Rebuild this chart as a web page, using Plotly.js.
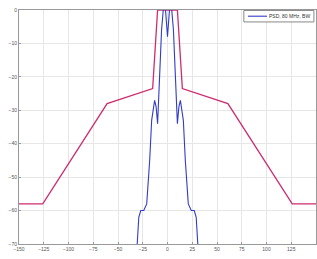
<!DOCTYPE html>
<html><head><meta charset="utf-8">
<script src="https://cdn.plot.ly/plotly-3.0.1.min.js"></script>
<style>html,body{margin:0;padding:0;background:#fff}#c{width:317px;height:259px}</style>
</head><body><div id="c"></div>
<script>
// Spectral mask (dBr) vs frequency offset
var maskFreq = [-150, -126, -61, -15, -10, 10, 15, 61, 126, 150];
var maskLevel = [-58, -58, -28, -23.5, 0, 0, -23.5, -28, -58, -58];
// Measured spectrum
var sigFreq = [-31, -29, -27, -24, -21, -18, -16, -13, -11.5, -10, -8, -6, -4, -2.5, -1, 0, 1, 2.5, 4, 6, 8, 10, 11.5, 13, 16, 18, 21, 24, 27, 29, 31];
var sigLevel = [-72, -62, -60, -60, -58, -45, -33, -27, -29, -34, -20, -6, 1, 2, -4, -8, -4, 2, 1, -6, -20, -34, -29, -27, -33, -45, -58, -60, -60, -62, -72];
var legendName = 'PSD, 80 MHz, BW';
var xTicks = [-150, -125, -100, -75, -50, -25, 0, 25, 50, 75, 100, 125, 150];
var yTicks = [-70, -60, -50, -40, -30, -20, -10, 0];

var sigColor = 'rgb(50,60,200)';
var traces = [
  {x: maskFreq, y: maskLevel, mode: 'lines', name: 'mask', showlegend: false,
   line: {color: 'rgb(205,45,110)', width: 1.3}},
  {x: sigFreq, y: sigLevel, mode: 'lines', name: legendName, showlegend: false,
   line: {color: sigColor, width: 1.1}}
];
var layout = {
  width: 317, height: 259,
  margin: {l: 19, r: 1, t: 10, b: 15},
  paper_bgcolor: '#fff', plot_bgcolor: '#fff',
  font: {family: 'Liberation Sans, Arial, sans-serif', size: 5, color: '#555'},
  xaxis: {range: [-150, 150], tickvals: xTicks, showgrid: true, gridcolor: '#e6e6e6',
          zeroline: false, showline: true, linecolor: '#999', mirror: true, linewidth: 1,
          ticks: 'inside', ticklen: 2, tickcolor: '#999', tickfont: {size: 5}},
  yaxis: {range: [-70, 0], tickvals: yTicks, showgrid: true, gridcolor: '#e6e6e6',
          zeroline: false, showline: true, linecolor: '#999', mirror: true, linewidth: 1,
          ticks: 'inside', ticklen: 2, tickcolor: '#999', tickfont: {size: 5}},
  showlegend: false,
  shapes: [
    {type: 'rect', xref: 'paper', yref: 'paper', x0: 0.757, x1: 0.993, y0: 0.949, y1: 0.998,
     fillcolor: '#fff', line: {color: '#888', width: 1}},
    {type: 'line', xref: 'paper', yref: 'paper', x0: 0.771, x1: 0.835, y0: 0.9735, y1: 0.9735,
     line: {color: sigColor, width: 1.1}}
  ],
  annotations: [
    {xref: 'paper', yref: 'paper', x: 0.985, y: 0.9735, xanchor: 'right', yanchor: 'middle',
     text: legendName, showarrow: false, font: {size: 5, color: '#333'}}
  ]
};
Plotly.newPlot('c', traces, layout, {staticPlot: true, displayModeBar: false});
</script></body></html>
